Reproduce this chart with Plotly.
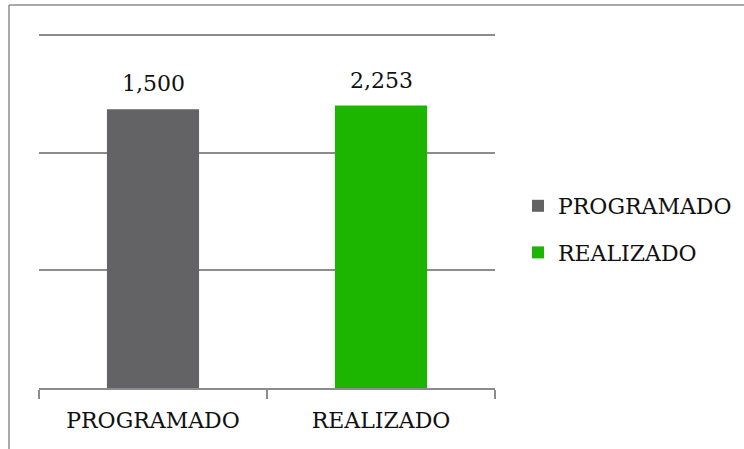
import plotly.graph_objects as go

categories = ["PROGRAMADO", "REALIZADO"]
bar_heights = [2.37, 2.40]          # bar heights, in gridline units
value_labels = ["1,500", "2,253"]  # data labels printed above the bars
colors = ["#636366", "#1cb500"]

FONT = "DejaVu Serif"
FS = 22
W, H = 744, 449
L, R, T, B = 39, 249, 29, 61
pw, ph = W - L - R, H - T - B
YMAX = 3.051

fig = go.Figure()
for cat, h, c in zip(categories, bar_heights, colors):
    fig.add_trace(go.Bar(
        x=[cat], y=[h], name=cat, marker=dict(color=c, line=dict(width=0)),
        width=0.404, legendgroup=cat, hoverinfo="skip",
    ))

for cat, h, lab in zip(categories, bar_heights, value_labels):
    fig.add_annotation(x=cat, y=h, text=lab, showarrow=False, yanchor="bottom",
                       yshift=11, font=dict(family=FONT, size=FS, color="#111"))

def px(x):
    return (x - L) / pw

def py(y):
    return (H - B - y) / ph

gc = "#8c8c8c"
fig.add_shape(type="line", xref="paper", yref="paper", x0=px(9), x1=px(760),
              y0=py(5), y1=py(5), line=dict(color=gc, width=1.5))
fig.add_shape(type="line", xref="paper", yref="paper", x0=px(9), x1=px(9),
              y0=py(5), y1=py(470), line=dict(color=gc, width=1.5))

fig.update_layout(
    width=W, height=H, margin=dict(l=L, r=R, t=T, b=B, autoexpand=False),
    paper_bgcolor="white", plot_bgcolor="white",
    barmode="overlay",
    font=dict(family=FONT, size=FS, color="#111"),
    showlegend=True,
    legend=dict(x=px(518), xanchor="left", y=py(229.5), yanchor="middle",
                font=dict(family=FONT, size=FS, color="#111"),
                tracegroupgap=15, bgcolor="rgba(0,0,0,0)"),
    xaxis=dict(showline=True, linecolor=gc, linewidth=1.5, ticks="outside",
               tickson="boundaries", ticklen=9, tickcolor=gc, tickwidth=1.5,
               showgrid=False, tickfont=dict(family=FONT, size=FS, color="#111"),
               ticklabelstandoff=12, fixedrange=True),
    yaxis=dict(range=[0, YMAX], dtick=1, showgrid=True, gridcolor=gc, gridwidth=1.5,
               showticklabels=False, zeroline=False, showline=False, fixedrange=True),
)

fig.write_html("out.html", config={"displayModeBar": False},
               post_script="document.body.style.margin='0';")
